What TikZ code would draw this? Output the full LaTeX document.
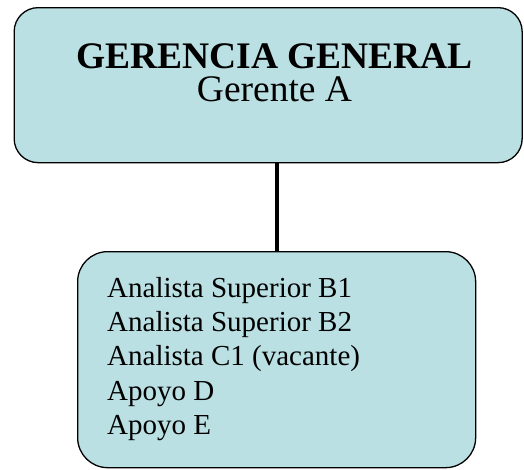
\documentclass[tikz,border=0pt]{standalone}
\usepackage{fontspec}
\setmainfont{Liberation Serif}
\definecolor{boxfill}{RGB}{186,224,227}
\begin{document}
\begin{tikzpicture}[x=1pt,y=-1pt,
  box/.style={draw=black, line width=1.3pt, fill=boxfill, inner sep=0pt},
  big/.style={font=\fontsize{37.5}{33.7}\selectfont, inner sep=0pt, align=center},
  item/.style={font=\fontsize{29}{34}\selectfont, inner sep=0pt, anchor=base west}]
\useasboundingbox (0,0) rectangle (524,469);
\node[box, rounded corners=24pt, minimum width=508pt, minimum height=155pt, anchor=north west] (top) at (13.5,7) {};
\node[big, anchor=base] (title) at (274.5,101.7) {\textbf{GERENCIA GENERAL}\\Gerente A};
\node[box, rounded corners=30pt, minimum width=398pt, minimum height=216pt, anchor=north west] (bottom) at (77,251) {};
\node[item] (l1) at (107,297.7) {Analista Superior B1};
\node[item] (l2) at (107,331.8) {Analista Superior B2};
\node[item] (l3) at (107,365.9) {Analista C1 (vacante)};
\node[item] (l4) at (107,400) {Apoyo D};
\node[item] (l5) at (107,434.1) {Apoyo E};
\draw[line width=4pt] (bottom.north |- top.south) -- (bottom.north);
\end{tikzpicture}
\end{document}
